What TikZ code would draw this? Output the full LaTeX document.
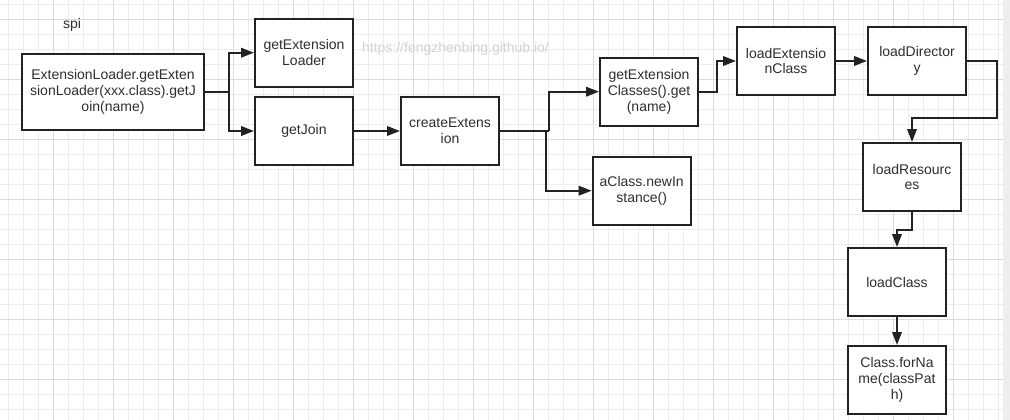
\documentclass[tikz,border=0pt]{standalone}
\usepackage{fontspec}
\setmainfont{Liberation Sans}
\usetikzlibrary{arrows.meta}
\definecolor{gridminor}{HTML}{EDEDED}
\definecolor{gridmajor}{HTML}{DCDCDC}
\definecolor{strip}{HTML}{EEEEEE}
\definecolor{ink}{HTML}{222222}
\definecolor{txt}{HTML}{2E2E2E}
\definecolor{wm}{HTML}{D2D2D2}
\tikzset{
  box/.style={draw=ink, line width=2pt, fill=white, text=txt, align=center,
    minimum width=98pt, minimum height=68pt, inner sep=0pt,
    font=\fontsize{14}{15.7}\selectfont},
  conn/.style={draw=ink, line width=2pt, -{Triangle[length=13pt,width=9.5pt]}},
  plain/.style={draw=ink, line width=2pt}
}
\begin{document}
\begin{tikzpicture}[x=1pt,y=-1pt]
\useasboundingbox (0,0) rectangle (1010,420);
\fill[white] (0,0) rectangle (1010,420);
% grid
\foreach \i in {0,...,66} {\draw[gridminor, line width=1pt] ({8.3+15*\i},0) -- ({8.3+15*\i},420);}
\foreach \i in {0,...,27} {\draw[gridminor, line width=1pt] (0,{4.3+15*\i}) -- (1003,{4.3+15*\i});}
\foreach \i in {0,...,15} {\draw[gridmajor, line width=1pt] ({53.3+60*\i},0) -- ({53.3+60*\i},420);}
\foreach \i in {0,...,6} {\draw[gridmajor, line width=1pt] (0,{19.3+60*\i}) -- (1003,{19.3+60*\i});}
\fill[strip] (1003,0) rectangle (1010,420);
% labels
\node[text=txt, font=\fontsize{14}{15}\selectfont] (spi) at (72,25) {spi};
\node[text=wm, font=\fontsize{14}{16}\selectfont, inner sep=0pt] (wm) at (455.5,48.5) {https://fengzhenbing.github.io/};
% boxes
\node[box, minimum width=182pt, minimum height=76pt] (A) at (113,92) {ExtensionLoader.getExten\\sionLoader(xxx.class).getJ\\oin(name)};
\node[box] (gEL) at (304,52.7) {getExtension\\Loader};
\node[box] (gJ) at (304,131) {getJoin};
\node[box] (cE) at (450,131) {createExtens\\ion};
\node[box] (gEC) at (649,91.7) {getExtension\\Classes().get\\(name)};
\node[box] (aC) at (641.7,190.7) {aClass.newIn\\stance()};
\node[box] (lEC) at (786,61) {loadExtensio\\nClass};
\node[box] (lD) at (917,61) {loadDirector\\y};
\node[box] (lR) at (912,177) {loadResourc\\es};
\node[box] (lC) at (897,282) {loadClass};
\node[box] (cF) at (897,380) {Class.forNa\\me(classPat\\h)};
% connectors
\coordinate (b1) at (229,92);
\draw[plain] (A.east) -- (b1);
\draw[conn] (b1) |- (gEL.west);
\draw[conn] (b1) |- (gJ.west);
\draw[conn] (gJ.east) -- (cE.west);
\coordinate (b2) at (549,131);
\coordinate (b3) at (546,131);
\draw[plain] (cE.east) -- (b2);
\draw[conn] (b2) |- (gEC.west);
\draw[conn] (b3) |- (aC.west);
\coordinate (b4) at (716.7,91.7);
\draw[conn] (gEC.east) -- (b4) |- (lEC.west);
\draw[conn] (lEC.east) -- (lD.west);
\coordinate (b5) at (996.7,61);
\coordinate (b6) at (996.7,118.3);
\draw[conn] (lD.east) -- (b5) -- (b6) -| (lR.north);
\coordinate (b7) at (912,230);
\draw[conn] (lR.south) -- (b7) -| (lC.north);
\draw[conn] (lC.south) -- (cF.north);
\end{tikzpicture}
\end{document}
